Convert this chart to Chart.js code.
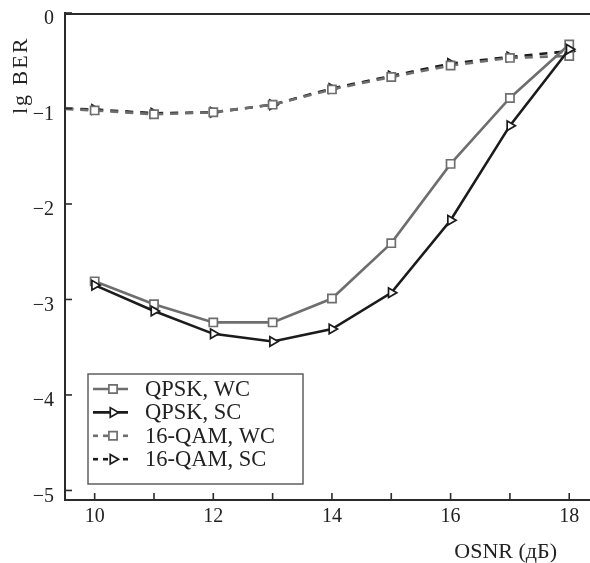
<!DOCTYPE html>
<html>
<head>
<meta charset="utf-8">
<script src="https://cdn.jsdelivr.net/npm/chart.js@4.4.1/dist/chart.umd.min.js"></script>
<style>
  html, body { margin: 0; padding: 0; background: #fff; }
  #wrap { width: 590px; height: 563px; position: relative; }
</style>
</head>
<body>
<div id="wrap"><canvas id="berChart"></canvas></div>
<script>
// ==========================================
// DATA
// ==========================================
// OSNR, dB
const osnr = [10, 11, 12, 13, 14, 15, 16, 17, 18];
// 16-QAM curves come in from the left of the axis
const osnrQam = [9, 10, 11, 12, 13, 14, 15, 16, 17, 18];

// lg BER
const qpskWC = [-2.81, -3.05, -3.24, -3.24, -2.99, -2.41, -1.58, -0.89, -0.33];
const qpskSC = [-2.85, -3.12, -3.36, -3.44, -3.31, -2.93, -2.17, -1.18, -0.38];
const qam16WC = [-0.99, -1.02, -1.06, -1.04, -0.96, -0.80, -0.67, -0.55, -0.47, -0.45];
const qam16SC = [-0.99, -1.01, -1.05, -1.04, -0.96, -0.79, -0.66, -0.53, -0.46, -0.40];

const seriesNames = ['QPSK, WC', 'QPSK, SC', '16-QAM, WC', '16-QAM, SC'];

const xTicks = [10, 11, 12, 13, 14, 15, 16, 17, 18];
const yTicks = [-5, -4, -3, -2, -1, 0];

const xTitle = 'OSNR (дБ)';
const yTitle = 'lg BER';

// ==========================================
// STYLE
// ==========================================
const FONT = '"Liberation Serif", "Times New Roman", serif';
const GRAY = '#6e6e6e';
const BLACK = '#1b1b1b';
const AXIS = '#2b2b2b';

const toPoints = (xs, ys) => xs.map((x, i) => ({ x: x, y: ys[i] }));

function lineSet(label, xs, ys, color, dashed, marker, order) {
    return {
        label: label,
        data: toPoints(xs, ys),
        borderColor: color,
        backgroundColor: '#fff',
        borderWidth: 2.6,
        borderDash: dashed ? [8, 7] : [],
        pointStyle: marker,
        pointRotation: marker === 'triangle' ? 90 : 0,
        pointRadius: marker === 'triangle' ? 5.5 : 5.8,
        pointBorderWidth: 1.7,
        pointBorderColor: color,
        pointBackgroundColor: '#fff',
        tension: 0,
        order: order
    };
}

// ==========================================
// FRAME / TICKS / TITLES / LEGEND PLUGIN
// ==========================================
const framePlugin = {
    id: 'frame',
    afterDraw(chart) {
        const ctx = chart.ctx;
        const area = chart.chartArea;
        const xs = chart.scales.x;
        const ys = chart.scales.y;

        ctx.save();
        ctx.strokeStyle = AXIS;
        ctx.lineWidth = 2;

        // top border line
        ctx.beginPath();
        ctx.moveTo(area.left, area.top + 1);
        ctx.lineTo(area.right, area.top + 1);
        ctx.stroke();

        // inward tick marks
        ctx.lineWidth = 1.6;
        xTicks.forEach(v => {
            const px = xs.getPixelForValue(v);
            ctx.beginPath();
            ctx.moveTo(px, area.bottom);
            ctx.lineTo(px, area.bottom - 7);
            ctx.stroke();
        });
        yTicks.forEach(v => {
            const py = ys.getPixelForValue(v);
            ctx.beginPath();
            ctx.moveTo(area.left, py);
            ctx.lineTo(area.left + 7, py);
            ctx.stroke();
        });

        // axis titles
        ctx.fillStyle = '#222';
        ctx.font = '22px ' + FONT;
        ctx.textAlign = 'right';
        ctx.textBaseline = 'alphabetic';
        ctx.fillText(xTitle, 557, 558);

        ctx.save();
        ctx.translate(27, 114);
        ctx.rotate(-Math.PI / 2);
        ctx.textAlign = 'left';
        ctx.font = '22px ' + FONT;
        ctx.letterSpacing = '2px';
        ctx.fillText(yTitle, 0, 0);
        ctx.restore();

        // legend box
        const box = { left: 88, top: 374, width: 215, height: 110 };
        ctx.lineWidth = 1.4;
        ctx.strokeStyle = '#555';
        ctx.fillStyle = '#fff';
        ctx.fillRect(box.left, box.top, box.width, box.height);
        ctx.strokeRect(box.left, box.top, box.width, box.height);

        chart.data.datasets.forEach((ds, i) => {
            const cy = box.top + 15 + i * 23.4;
            const x0 = box.left + 5;
            const x1 = box.left + 40;
            ctx.save();
            ctx.strokeStyle = ds.borderColor;
            ctx.lineWidth = ds.borderWidth;
            ctx.setLineDash(ds.borderDash.length ? [5, 5] : []);
            ctx.beginPath();
            ctx.moveTo(x0, cy);
            ctx.lineTo(x1, cy);
            ctx.stroke();
            ctx.setLineDash([]);
            ctx.fillStyle = '#fff';
            ctx.lineWidth = ds.pointBorderWidth;
            Chart.helpers.drawPoint(ctx, {
                pointStyle: ds.pointStyle,
                rotation: ds.pointRotation,
                radius: ds.pointRadius,
                borderWidth: ds.pointBorderWidth
            }, box.left + 25, cy);
            ctx.restore();

            ctx.fillStyle = '#222';
            ctx.font = '22.5px ' + FONT;
            ctx.textAlign = 'left';
            ctx.textBaseline = 'middle';
            ctx.fillText(ds.label, box.left + 57, cy + 1);
        });

        ctx.restore();
    }
};

// ==========================================
// CHART
// ==========================================
function initBerChart() {
    const ctx = document.getElementById('berChart');
    if (!ctx) return;

    new Chart(ctx, {
        type: 'line',
        data: {
            datasets: [
                lineSet(seriesNames[0], osnr, qpskWC, GRAY, false, 'rect', 2),
                lineSet(seriesNames[1], osnr, qpskSC, BLACK, false, 'triangle', 1),
                lineSet(seriesNames[2], osnrQam, qam16WC, GRAY, true, 'rect', 3),
                lineSet(seriesNames[3], osnrQam, qam16SC, BLACK, true, 'triangle', 4)
            ]
        },
        plugins: [framePlugin],
        options: {
            responsive: true,
            maintainAspectRatio: false,
            animation: false,
            layout: {
                autoPadding: false,
                padding: { left: 0, top: 13, right: 0, bottom: 0 }
            },
            plugins: {
                legend: { display: false },
                tooltip: { enabled: false }
            },
            scales: {
                x: {
                    type: 'linear',
                    min: 9.5,
                    max: 18.35,
                    afterBuildTicks: s => { s.ticks = xTicks.map(v => ({ value: v })); },
                    afterFit: s => { s.height = 63; s.paddingLeft = 0; s.paddingRight = 0; },
                    grid: { drawOnChartArea: false, drawTicks: false },
                    border: { display: true, color: AXIS, width: 2 },
                    ticks: {
                        color: '#222',
                        padding: 5,
                        maxRotation: 0,
                        autoSkip: false,
                        font: { family: FONT, size: 20 },
                        callback: v => (v % 2 === 0 ? String(v) : '')
                    }
                },
                y: {
                    type: 'linear',
                    min: -5.1,
                    max: 0,
                    afterBuildTicks: s => { s.ticks = yTicks.map(v => ({ value: v })); },
                    afterFit: s => { s.width = 65; s.paddingTop = 0; s.paddingBottom = 0; },
                    grid: { drawOnChartArea: false, drawTicks: false },
                    border: { display: true, color: AXIS, width: 2 },
                    ticks: {
                        color: '#222',
                        padding: 11,
                        labelOffset: 6,
                        autoSkip: false,
                        font: { family: FONT, size: 20 },
                        callback: v => (v < 0 ? '\u2212' + Math.abs(v) : String(v))
                    }
                }
            }
        }
    });
}

document.addEventListener('DOMContentLoaded', initBerChart);
</script>
</body>
</html>
